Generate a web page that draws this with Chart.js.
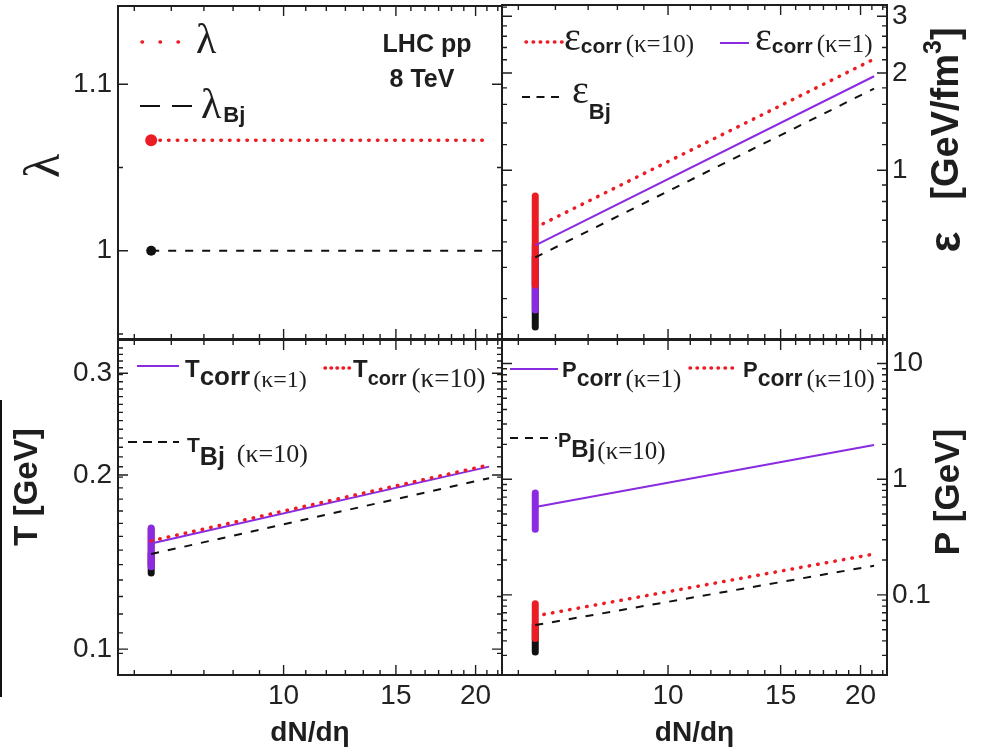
<!DOCTYPE html>
<html>
<head>
<meta charset="utf-8">
<title>LHC pp 8 TeV</title>
<script src="https://cdn.jsdelivr.net/npm/chart.js@4.4.1/dist/chart.umd.min.js"></script>
<style>
  html, body { margin: 0; padding: 0; background: #fff; }
  #wrap { position: relative; width: 981px; height: 750px; overflow: hidden; }
  #wrap canvas { position: absolute; left: 0; top: 0; }
  .edge { position: absolute; left: 0; top: 400px; width: 2px; height: 297px; background: #111; }
</style>
</head>
<body>
<div id="wrap">
  <canvas id="lam" width="981" height="750"></canvas>
  <canvas id="eps" width="981" height="750"></canvas>
  <canvas id="temp" width="981" height="750"></canvas>
  <canvas id="pres" width="981" height="750"></canvas>
  <div class="edge"></div>
</div>
<script>
// dN/deta at the start and end of every curve
const dndeta = [6.2, 21];

// lambda
const lambdaCorr = [1.0664, 1.0664];
const lambdaBj = [1.0, 1.0];

// energy density [GeV/fm^3]
const epsCorrK10 = [0.664, 2.21];
const epsCorrK1 = [0.585, 1.955];
const epsBj = [0.537, 1.79];
const epsSpreadK10 = [0.441, 0.832];
const epsSpreadK1 = [0.369, 0.585];
const epsSpreadBj = [0.327, 0.537];

// temperature [GeV]
const tCorrK1 = [0.1523, 0.2068];
const tCorrK10 = [0.1539, 0.2082];
const tBj = [0.146, 0.1975];
const tSpreadK1 = [0.1388, 0.162];
const tSpreadK10 = [0.1400, 0.1612];
const tSpreadBj = [0.1354, 0.146];

// pressure [GeV]
const pCorrK1 = [0.574, 1.976];
const pCorrK10 = [0.0657, 0.2255];
const pBj = [0.0548, 0.1787];
const pSpreadK1 = [0.37, 0.76];
const pSpreadK10 = [0.042, 0.084];
const pSpreadBj = [0.0321, 0.0548];

// axes
const xRange = [5.5, 22];
const xMajor = [10, 15, 20];
const xLabels = ['10', '15', '20'];
const lamRange = [0.947, 1.147];
const lamMajor = [1, 1.1];
const lamLabels = ['1', '1.1'];
const lamMinor = [0.95, 1.05];
const epsRange = [0.31, 3.25];
const epsMajor = [1, 2, 3];
const epsLabels = ['1', '2', '3'];
const epsMinor = [0.35, 0.4, 0.5, 0.6, 0.7, 0.8, 0.9, 1.2, 1.4, 1.6, 1.8, 2.2, 2.4, 2.6, 2.8, 3.2];
const tRange = [0.0902, 0.3424];
const tMajor = [0.1, 0.2, 0.3];
const tLabels = ['0.1', '0.2', '0.3'];
const pRange = [0.0203, 15.96];
const pMajor = [0.1, 1, 10];
const pLabels = ['0.1', '1', '10'];
const pMinor = [0.03, 0.04, 0.05, 0.06, 0.07, 0.08, 0.09, 0.2, 0.3, 0.4, 0.5, 0.6, 0.7, 0.8, 0.9, 2, 3, 4, 5, 6, 7, 8, 9];

// minor ticks between labelled values, evenly spaced in value
function between(from, to, step, skip) {
  const out = [];
  for (let v = from; v <= to + 1e-9; v += step) {
    if (!skip.some(s => Math.abs(s - v) < 1e-6)) out.push(+v.toFixed(5));
  }
  return out;
}
const xMinor = between(5 / 6 * 7, 22, 5 / 6, xMajor);
const tMinor = between(0.09, 0.342, 1 / 120, tMajor);

const SANS = '"Liberation Sans", Arial, sans-serif';
const SERIF = '"Liberation Serif", "Times New Roman", serif';
const RED = '#ec1c24';
const PURPLE = '#8a2be2';
const BLACK = '#111';
const INK = '#1e1e1e';

const pts = ys => dndeta.map((x, i) => ({ x, y: ys[i] }));
const spread = ys => ys.map(y => ({ x: dndeta[0], y }));

const dotted = (ys, extra) => Object.assign({ data: pts(ys), borderColor: RED, backgroundColor: RED,
  borderWidth: 3.5, borderDash: [0.5, 8.2], borderCapStyle: 'round', pointRadius: 0 }, extra);
const solid = ys => ({ data: pts(ys), borderColor: PURPLE, borderWidth: 2, pointRadius: 0 });
const dashed = (ys, extra) => Object.assign({ data: pts(ys), borderColor: BLACK, backgroundColor: BLACK,
  borderWidth: 2, borderDash: [8, 9], pointRadius: 0 }, extra);
const band = (ys, color) => ({ data: spread(ys), borderColor: color, borderWidth: 7,
  borderCapStyle: 'round', pointRadius: 0 });

function richText(ctx, x, y, parts, align) {
  let width = 0;
  for (const p of parts) {
    ctx.font = p.f;
    width += (p.dx || 0) + ctx.measureText(p.t).width;
  }
  let cx = align === 'center' ? x - width / 2 : x;
  for (const p of parts) {
    ctx.font = p.f;
    cx += p.dx || 0;
    ctx.fillText(p.t, cx, y + (p.dy || 0));
    cx += ctx.measureText(p.t).width;
  }
}

// frame with inward ticks, legend entries, notes and the vertical axis title
function decor(cfg) {
  return {
    id: 'decor',
    afterDraw(chart) {
      const { ctx, chartArea: a } = chart;
      const sx = chart.scales.x, sy = chart.scales.y;
      ctx.save();
      ctx.strokeStyle = INK;
      ctx.lineWidth = 1.4;
      const marks = (scale, vals, len) => {
        for (const v of vals) {
          const p = scale.getPixelForValue(v);
          if (scale === sx) {
            if (p < a.left + 2 || p > a.right - 2) continue;
            ctx.beginPath();
            ctx.moveTo(p, a.bottom); ctx.lineTo(p, a.bottom - len);
            ctx.moveTo(p, a.top); ctx.lineTo(p, a.top + len);
          } else {
            if (p < a.top + 2 || p > a.bottom - 2) continue;
            ctx.beginPath();
            ctx.moveTo(a.left, p); ctx.lineTo(a.left + len, p);
            ctx.moveTo(a.right, p); ctx.lineTo(a.right - len, p);
          }
          ctx.stroke();
        }
      };
      marks(sx, xMajor, 10);
      marks(sx, xMinor, 5);
      marks(sy, cfg.yMajor, 10);
      marks(sy, cfg.yMinor, 5);
      ctx.lineWidth = 2;
      ctx.strokeRect(a.left, a.top, a.right - a.left, a.bottom - a.top);

      ctx.fillStyle = INK;
      ctx.textBaseline = 'alphabetic';
      ctx.textAlign = 'left';
      for (const item of cfg.legend) {
        const ds = chart.data.datasets[item.ds];
        ctx.save();
        ctx.strokeStyle = ds.borderColor;
        ctx.lineWidth = ds.borderWidth;
        ctx.setLineDash(item.dash || ds.borderDash || []);
        ctx.lineCap = ds.borderCapStyle || 'butt';
        ctx.beginPath();
        ctx.moveTo(item.x1, item.y);
        ctx.lineTo(item.x2, item.y);
        ctx.stroke();
        ctx.restore();
        richText(ctx, item.tx, item.ty, item.parts);
      }
      for (const n of cfg.notes || []) richText(ctx, n.x, n.y, n.parts, 'center');

      const t = cfg.title;
      ctx.save();
      ctx.translate(t.x, t.y);
      ctx.rotate(-Math.PI / 2);
      ctx.textBaseline = 'middle';
      richText(ctx, 0, 0, t.parts, 'center');
      ctx.restore();
      ctx.restore();
    }
  };
}

function xAxis(withLabels) {
  return {
    type: 'logarithmic', min: xRange[0], max: xRange[1], display: withLabels,
    afterBuildTicks: s => { s.ticks = xMajor.map(v => ({ value: v })); },
    afterFit: s => { s.height = withLabels ? 75 : 0; s.paddingLeft = 0; s.paddingRight = 0; },
    grid: { display: false, drawTicks: false },
    border: { display: false },
    ticks: { autoSkip: false, maxRotation: 0, minRotation: 0, padding: 4, color: '#222',
      font: { family: SANS, size: 28 }, callback: (v, i) => xLabels[i] },
    title: { display: true, text: 'dN/dη', color: INK, padding: { top: 0, bottom: 0 },
      font: { family: SANS, size: 28, weight: 'bold' } }
  };
}

function yAxis(type, side, range, major, labels) {
  return {
    type, position: side, min: range[0], max: range[1],
    afterBuildTicks: s => { s.ticks = major.map(v => ({ value: v })); },
    afterFit: s => { s.width = side === 'left' ? 118 : 94; s.paddingTop = 0; s.paddingBottom = 0; },
    grid: { display: false, drawTicks: false },
    border: { display: false },
    ticks: { padding: side === 'left' ? 6 : 5, color: '#222',
      font: { family: SANS, size: 28 }, callback: (v, i) => labels[i] }
  };
}

function panel(id, datasets, padding, scales, cfg) {
  return new Chart(document.getElementById(id), {
    type: 'line',
    data: { datasets },
    options: {
      responsive: false,
      animation: false,
      events: [],
      layout: { padding },
      plugins: { legend: { display: false }, tooltip: { enabled: false } },
      scales
    },
    plugins: [decor(cfg)]
  });
}

const big = s => `${s}px ${SERIF}`;
const bold = s => `bold ${s}px ${SANS}`;

panel('lam', [
  dotted(lambdaCorr, { pointRadius: [6, 0], pointBackgroundColor: RED, pointBorderWidth: 0 }),
  dashed(lambdaBj, { pointRadius: [5, 0], pointBackgroundColor: BLACK, pointBorderWidth: 0 })
], { left: 0, top: 5, right: 479, bottom: 411 }, {
  x: xAxis(false),
  y: yAxis('linear', 'left', lamRange, lamMajor, lamLabels)
}, {
  yMajor: lamMajor, yMinor: lamMinor,
  legend: [
    { ds: 0, x1: 142, x2: 180, y: 42, dash: [0.5, 17.5], tx: 196, ty: 53, parts: [{ t: 'λ', f: big(42) }] },
    { ds: 1, x1: 140, x2: 192, y: 106, dash: [20, 12], tx: 201, ty: 118,
      parts: [{ t: 'λ', f: big(42) }, { t: 'Bj', f: bold(22), dy: 4, dx: 2 }] }
  ],
  notes: [
    { x: 427, y: 52, parts: [{ t: 'LHC pp', f: bold(25) }] },
    { x: 422, y: 87, parts: [{ t: '8 TeV', f: bold(25) }] }
  ],
  title: { x: 46, y: 166, parts: [{ t: 'λ', f: big(50) }] }
});

panel('eps', [
  dotted(epsCorrK10),
  solid(epsCorrK1),
  dashed(epsBj),
  band(epsSpreadK10, RED),
  band(epsSpreadK1, PURPLE),
  band(epsSpreadBj, BLACK)
], { left: 502, top: 5, right: 0, bottom: 411 }, {
  x: xAxis(false),
  y: yAxis('logarithmic', 'right', epsRange, epsMajor, epsLabels)
}, {
  yMajor: epsMajor, yMinor: epsMinor,
  legend: [
    { ds: 0, x1: 526, x2: 562, y: 42, dash: [0.5, 6.6], tx: 564, ty: 50,
      parts: [{ t: 'ε', f: big(40) }, { t: 'corr', f: bold(21), dy: 3 }, { t: '(κ=10)', f: big(25), dx: 4, dy: 2 }] },
    { ds: 1, x1: 720, x2: 749, y: 43, tx: 755, ty: 50,
      parts: [{ t: 'ε', f: big(40) }, { t: 'corr', f: bold(21), dy: 3 }, { t: '(κ=1)', f: big(25), dx: 4, dy: 2 }] },
    { ds: 2, x1: 522, x2: 563, y: 97, dash: [8, 6.5], tx: 572, ty: 103,
      parts: [{ t: 'ε', f: big(40) }, { t: 'Bj', f: bold(22), dy: 16 }] }
  ],
  title: { x: 948, y: 140, parts: [{ t: 'ε', f: bold(44) }, { t: '[GeV/fm', f: bold(38), dx: 32 },
    { t: '3', f: bold(25), dy: -14 }, { t: ']', f: bold(38) }] }
});

panel('temp', [
  dotted(tCorrK10),
  solid(tCorrK1),
  dashed(tBj),
  band(tSpreadK1, PURPLE),
  band(tSpreadK10, RED),
  band(tSpreadBj, BLACK)
], { left: 0, top: 340, right: 479, bottom: 0 }, {
  x: xAxis(true),
  y: yAxis('logarithmic', 'left', tRange, tMajor, tLabels)
}, {
  yMajor: tMajor, yMinor: tMinor,
  legend: [
    { ds: 1, x1: 137, x2: 179, y: 366, tx: 185, ty: 377,
      parts: [{ t: 'T', f: bold(24) }, { t: 'corr', f: bold(26), dy: 8 }, { t: '(κ=1)', f: big(24), dx: 3, dy: 10 }] },
    { ds: 0, x1: 325, x2: 352, y: 368, dash: [0.5, 5.5], tx: 353, ty: 377,
      parts: [{ t: 'T', f: bold(24) }, { t: 'corr', f: bold(20), dy: 8 }, { t: '(κ=10)', f: big(27), dx: 5, dy: 10 }] },
    { ds: 2, x1: 128, x2: 179, y: 442, dash: [9, 6], tx: 187, ty: 452,
      parts: [{ t: 'T', f: bold(21) }, { t: 'Bj', f: bold(25), dy: 13 }, { t: '(κ=10)', f: big(26), dx: 12, dy: 10 }] }
  ],
  title: { x: 28, y: 487, parts: [{ t: 'T [GeV]', f: bold(33) }] }
});

panel('pres', [
  solid(pCorrK1),
  dotted(pCorrK10),
  dashed(pBj),
  band(pSpreadK1, PURPLE),
  band(pSpreadK10, RED),
  band(pSpreadBj, BLACK)
], { left: 502, top: 340, right: 0, bottom: 0 }, {
  x: xAxis(true),
  y: yAxis('logarithmic', 'right', pRange, pMajor, pLabels)
}, {
  yMajor: pMajor, yMinor: pMinor,
  legend: [
    { ds: 0, x1: 510, x2: 558, y: 369, tx: 562, ty: 377,
      parts: [{ t: 'P', f: bold(22) }, { t: 'corr', f: bold(23), dy: 9 }, { t: '(κ=1)', f: big(25), dx: 4, dy: 10 }] },
    { ds: 1, x1: 690, x2: 739, y: 368, dash: [0.5, 6.5], tx: 743, ty: 377,
      parts: [{ t: 'P', f: bold(22) }, { t: 'corr', f: bold(23), dy: 9 }, { t: '(κ=10)', f: big(25), dx: 4, dy: 10 }] },
    { ds: 2, x1: 510, x2: 557, y: 438, dash: [8, 7], tx: 558, ty: 447,
      parts: [{ t: 'P', f: bold(20) }, { t: 'Bj', f: bold(24), dy: 10 }, { t: '(κ=10)', f: big(25), dx: 2, dy: 12 }] }
  ],
  title: { x: 949, y: 492, parts: [{ t: 'P [GeV]', f: bold(35) }] }
});
</script>
</body>
</html>
